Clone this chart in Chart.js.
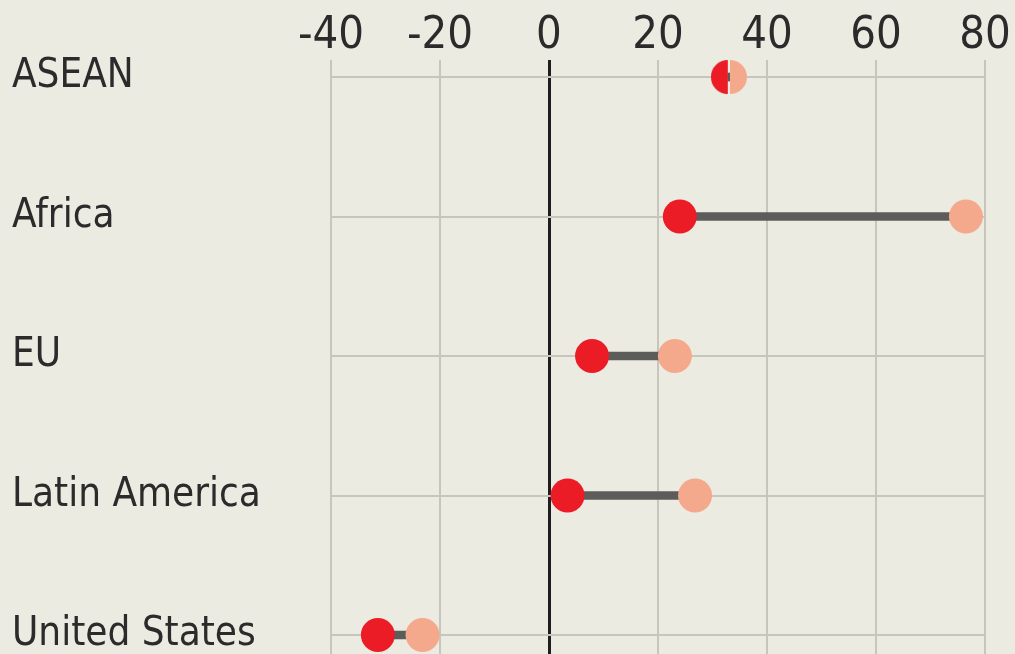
<!DOCTYPE html>
<html>
<head>
<meta charset="utf-8">
<script src="https://cdn.jsdelivr.net/npm/chart.js@4.4.1/dist/chart.umd.min.js"></script>
<style>
  html, body { margin: 0; padding: 0; background: #ebebe1; }
  canvas { display: block; }
</style>
</head>
<body>
<canvas id="c" width="1015" height="654"></canvas>
<script>
const categories = ["ASEAN", "Africa", "EU", "Latin America", "United States"];
const redValues = [32.8, 24.0, 7.9, 3.4, -31.4];
const lightValues = [33.2, 76.5, 23.1, 26.8, -23.2];
const xTicks = [-40, -20, 0, 20, 40, 60, 80];

const FONT = "'Liberation Sans Narrow', 'Arial Narrow', 'DejaVu Sans Condensed', sans-serif";
const RED = '#ec1c26';
const LIGHT = '#f5a98c';
const R = 17;

function halfCircle(color, side) {
  const c = document.createElement('canvas');
  c.width = 2 * R; c.height = 2 * R;
  const g = c.getContext('2d');
  g.fillStyle = color;
  g.beginPath();
  if (side === 'left') g.arc(R, R, R, Math.PI / 2, Math.PI * 3 / 2);
  else g.arc(R, R, R, -Math.PI / 2, Math.PI / 2);
  g.closePath();
  g.fill();
  return c;
}
const redHalf = halfCircle(RED, 'left');
const lightHalf = halfCircle(LIGHT, 'right');

const connectorData = categories.map((c, i) => ({ x: [redValues[i], lightValues[i]], y: i }));
const redData = categories.map((c, i) => ({ x: redValues[i], y: i }));
const lightData = categories.map((c, i) => ({ x: lightValues[i], y: i }));

new Chart(document.getElementById('c'), {
  type: 'bar',
  data: {
    datasets: [
      {
        type: 'bar',
        data: connectorData,
        backgroundColor: '#5c5c5a',
        barThickness: 8,
        borderWidth: 0,
        order: 3
      },
      {
        type: 'scatter',
        data: redData,
        backgroundColor: RED,
        borderWidth: 0,
        pointRadius: R,
        pointHoverRadius: R,
        pointStyle: ctx => (ctx.dataIndex === 0 ? redHalf : 'circle'),
        clip: false,
        order: 2
      },
      {
        type: 'scatter',
        data: lightData,
        backgroundColor: LIGHT,
        borderWidth: 0,
        pointRadius: R,
        pointHoverRadius: R,
        pointStyle: ctx => (ctx.dataIndex === 0 ? lightHalf : 'circle'),
        clip: false,
        order: 1
      }
    ]
  },
  options: {
    indexAxis: 'y',
    responsive: false,
    animation: false,
    events: [],
    layout: { autoPadding: false, padding: { left: 12, right: 30, top: 0, bottom: 0 } },
    plugins: { legend: { display: false }, tooltip: { enabled: false } },
    scales: {
      x: {
        type: 'linear',
        position: 'top',
        min: -40,
        max: 80,
        offset: false,
        afterBuildTicks: s => { s.ticks = xTicks.map(v => ({ value: v })); },
        afterFit: s => { s.height = 60; },
        border: { display: false },
        grid: {
          offset: false,
          drawTicks: false,
          color: ctx => (ctx.tick && ctx.tick.value === 0 ? '#1e1e1e' : '#c6c6bd'),
          lineWidth: ctx => (ctx.tick && ctx.tick.value === 0 ? 3 : 2)
        },
        ticks: {
          padding: -3,
          color: '#2b2b2b',
          font: { family: FONT, size: 45 }
        }
      },
      y: {
        type: 'linear',
        reverse: true,
        offset: false,
        min: -0.122,
        max: 4.136,
        afterBuildTicks: s => { s.ticks = categories.map((c, i) => ({ value: i })); },
        afterFit: s => { s.width = 319; s.paddingTop = 0; s.paddingBottom = 0; },
        border: { display: false },
        grid: {
          offset: false,
          drawTicks: false,
          color: '#c6c6bd',
          lineWidth: 2
        },
        ticks: {
          crossAlign: 'far',
          padding: 0,
          color: '#2b2b2b',
          font: { family: FONT, size: 40 },
          callback: v => categories[v]
        }
      }
    }
  }
});
</script>
</body>
</html>
